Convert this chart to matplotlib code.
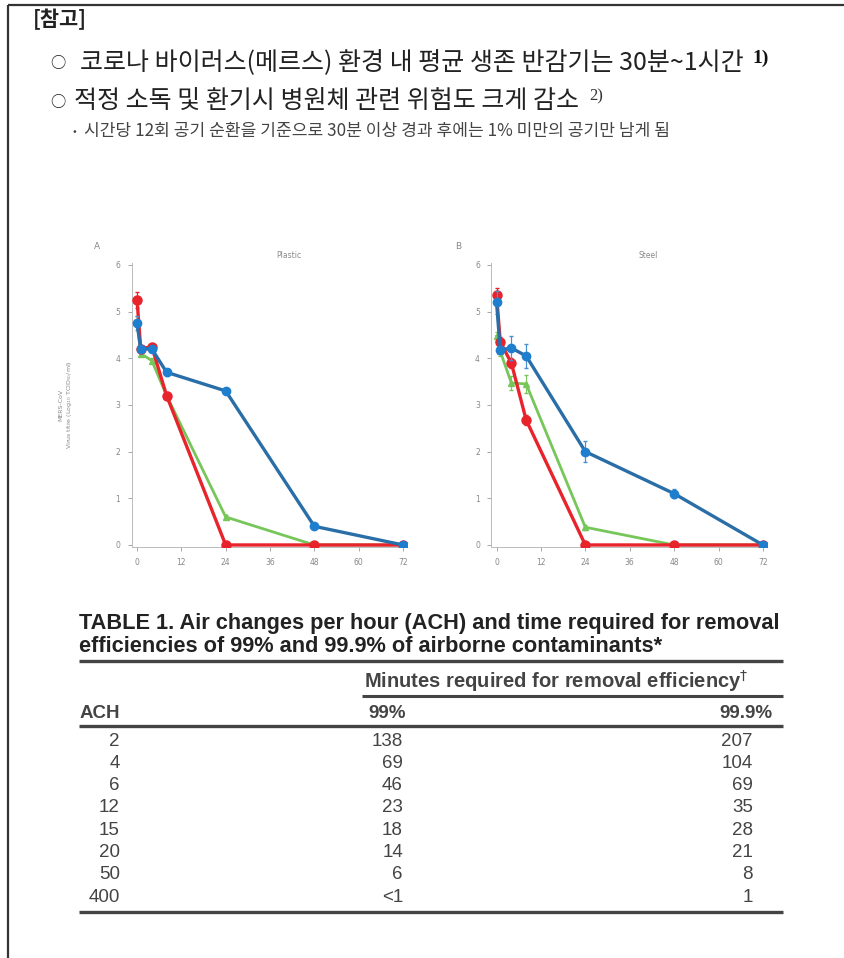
import matplotlib
matplotlib.use('Agg')
import matplotlib.pyplot as plt
from matplotlib import font_manager

W, H = 845, 958

# ---- data ----
hours = [0, 1, 4, 8, 24, 48, 72]
time_ticks = [0, 12, 24, 36, 48, 60, 72]

plastic_blue = [4.75, 4.2, 4.2, 3.7, 3.3, 0.4, 0.0]
plastic_red = [5.25, 4.2, 4.25, 3.2, 0.0, 0.0, 0.0]
plastic_green = [4.8, 4.1, 3.95, 3.2, 0.6, 0.0, 0.0]
plastic_blue_err = [0.15, 0.05, 0.05, 0.08, 0.05, 0.05, 0.0]
plastic_red_err = [0.18, 0.05, 0.05, 0.08, 0.0, 0.0, 0.0]
plastic_green_err = [0.1, 0.05, 0.05, 0.05, 0.05, 0.0, 0.0]

steel_blue = [5.2, 4.18, 4.22, 4.05, 2.0, 1.1, 0.0]
steel_red = [5.35, 4.35, 3.9, 2.68, 0.0, 0.0, 0.0]
steel_green = [4.47, 4.15, 3.47, 3.45, 0.38, 0.0, 0.0]
steel_blue_err = [0.25, 0.08, 0.25, 0.25, 0.22, 0.1, 0.0]
steel_red_err = [0.15, 0.1, 0.1, 0.1, 0.0, 0.0, 0.0]
steel_green_err = [0.1, 0.1, 0.15, 0.2, 0.05, 0.0, 0.0]

ach = ['2', '4', '6', '12', '15', '20', '50', '400']
min_99 = ['138', '69', '46', '23', '18', '14', '6', '<1']
min_999 = ['207', '104', '69', '35', '28', '21', '8', '1']

header = '[참고]'
bullet_1 = '코로나 바이러스(메르스) 환경 내 평균 생존 반감기는 30분~1시간'
bullet_2 = '적정 소독 및 환기시 병원체 관련 위험도 크게 감소'
sub_bullet = '시간당 12회 공기 순환을 기준으로 30분 이상 경과 후에는 1% 미만의 공기만 남게 됨'
table_title_1 = 'TABLE 1. Air changes per hour (ACH) and time required for removal'
table_title_2 = 'efficiencies of 99% and 99.9% of airborne contaminants*'

KR = ['Noto Sans CJK KR', 'DejaVu Sans']
names = {f.name for f in font_manager.fontManager.ttflist}
TAB = 'Liberation Sans' if 'Liberation Sans' in names else 'DejaVu Sans'

BLUE = '#2a6ea8'
BLUE_MK = '#1f7fcf'
RED = '#e8232b'
GREEN = '#76c65a'
TCOL = '#444444'

fig = plt.figure(figsize=(W / 100, H / 100), dpi=100)
fig.patch.set_facecolor('white')

bg = fig.add_axes([0, 0, 1, 1])
bg.set_xlim(0, W)
bg.set_ylim(H, 0)
bg.axis('off')

# page frame
bg.plot([8, 8], [5, H], color='#333333', lw=1.6, solid_capstyle='butt')
bg.plot([8, W], [5, 5], color='#333333', lw=1.6, solid_capstyle='butt')

# ---- Korean notes ----
bg.text(33, 19, header, family=KR, fontsize=15, fontweight='bold', color='#222222',
        va='center')
bg.text(50, 63, '○', family=KR, fontsize=11, color='#222222', va='center')
t1 = bg.text(80, 62, bullet_1, family=KR, fontsize=18, color='#222222', va='center')
bg.text(50, 102, '○', family=KR, fontsize=11, color='#222222', va='center')
t2 = bg.text(74, 101, bullet_2, family=KR, fontsize=18, color='#222222', va='center')
bg.text(73, 132, '•', family=KR, fontsize=8, color='#444444', va='center')
bg.text(84, 131, sub_bullet, family=KR, fontsize=12.3, color='#444444', va='center')

fig.canvas.draw()
r = fig.canvas.get_renderer()
x_end1 = t1.get_window_extent(r).x1
x_end2 = t2.get_window_extent(r).x1
bg.text(x_end1 + 9, 58, '1)', family='Liberation Serif', fontsize=14, fontweight='bold',
        color='#111111', va='center')
bg.text(x_end2 + 10, 96, '2)', family='Liberation Serif', fontsize=12, color='#333333',
        va='center')


# ---- charts ----
def px_axes(x0, y0, x1, y1):
    return fig.add_axes([x0 / W, 1 - y1 / H, (x1 - x0) / W, (y1 - y0) / H])


def draw_panel(ax, blue, red, green, be, re, ge, title):
    ax.errorbar(hours, green, yerr=ge, color=GREEN, lw=2.0, marker='^', ms=4,
                mfc=GREEN, mec=GREEN, ecolor=GREEN, elinewidth=0.8, capsize=1.5, zorder=2)
    ax.errorbar(hours, red, yerr=re, color=RED, lw=2.4, marker='o', ms=6.5,
                mfc=RED, mec=RED, ecolor=RED, elinewidth=0.9, capsize=1.5, zorder=3)
    ax.errorbar(hours, blue, yerr=be, color=BLUE, lw=2.4, marker='o', ms=6,
                mfc=BLUE_MK, mec=BLUE_MK, ecolor='#4a8fd0', elinewidth=0.9, capsize=1.5,
                zorder=4)
    ax.set_xlim(-1.5, 73)
    ax.set_ylim(-0.05, 6.05)
    ax.set_xticks(time_ticks)
    ax.set_yticks(range(7))
    ax.tick_params(colors='#999999', labelcolor='#888888', labelsize=5.5, length=3,
                   width=0.6, pad=5)
    for s in ['top', 'right']:
        ax.spines[s].set_visible(False)
    for s in ['left', 'bottom']:
        ax.spines[s].set_color('#bbbbbb')
        ax.spines[s].set_linewidth(0.7)
    ax.patch.set_alpha(0)
    ax.text(0.57, 1.01, title, transform=ax.transAxes, fontsize=5.5, color='#888888',
            ha='center', va='bottom')


axA = px_axes(131.5, 262.6, 406.7, 547.3)
draw_panel(axA, plastic_blue, plastic_red, plastic_green,
           plastic_blue_err, plastic_red_err, plastic_green_err, 'Plastic')
axA.set_ylabel('MERS-CoV\nVirus titre (Log$_{10}$ TCID$_{50}$/ml)', fontsize=4.5,
               color='#888888', labelpad=30)

axB = px_axes(491, 262.6, 766.6, 547.3)
draw_panel(axB, steel_blue, steel_red, steel_green,
           steel_blue_err, steel_red_err, steel_green_err, 'Steel')

bg.text(97, 246, 'A', fontsize=6.5, color='#888888', ha='center', va='center')
bg.text(458, 246, 'B', fontsize=6.5, color='#888888', ha='center', va='center')

# ---- table ----
L, R = 79, 783
bg.text(L, 623, table_title_1, family=TAB, fontsize=15.7, fontweight='bold',
        color='#222222', va='center')
bg.text(L, 646, table_title_2, family=TAB, fontsize=15.7, fontweight='bold',
        color='#222222', va='center')
bg.plot([L, R], [661, 661], color=TCOL, lw=2.4, solid_capstyle='butt')
bg.text(364, 681, 'Minutes required for removal efficiency$^{\\dagger}$', family=TAB,
        fontsize=14.5, fontweight='bold', color=TCOL, va='center')
bg.plot([362, R], [696, 696], color=TCOL, lw=2.2, solid_capstyle='butt')
bg.text(80, 713, 'ACH', family=TAB, fontsize=13.5, fontweight='bold', color=TCOL,
        va='center')
bg.text(368, 713, '99%', family=TAB, fontsize=13.5, fontweight='bold', color=TCOL,
        va='center')
bg.text(773, 713, '99.9%', family=TAB, fontsize=13.5, fontweight='bold', color=TCOL,
        va='center', ha='right')
bg.plot([L, R], [726, 726], color=TCOL, lw=2.4, solid_capstyle='butt')

for i in range(len(ach)):
    y = 741 + i * 22.3
    bg.text(120, y, ach[i], family=TAB, fontsize=13.5, color=TCOL, va='center',
            ha='right')
    bg.text(403, y, min_99[i], family=TAB, fontsize=13.5, color=TCOL, va='center',
            ha='right')
    bg.text(753, y, min_999[i], family=TAB, fontsize=13.5, color=TCOL, va='center',
            ha='right')
bg.plot([L, R], [912, 912], color=TCOL, lw=2.4, solid_capstyle='butt')

fig.savefig('out.png', dpi=100, facecolor='white')
